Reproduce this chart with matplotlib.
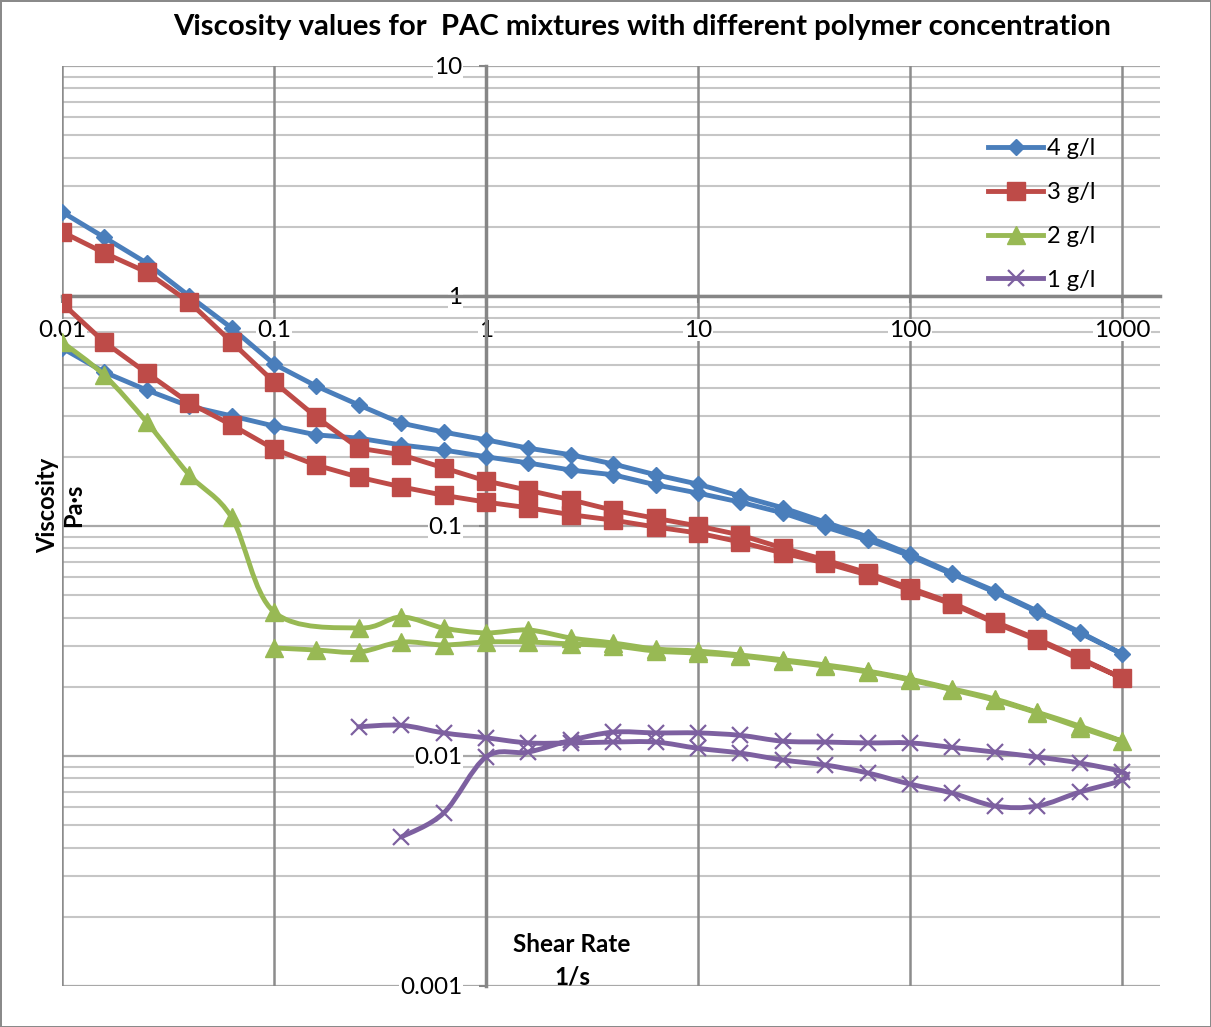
import numpy as np
import matplotlib
matplotlib.use('Agg')
import matplotlib.pyplot as plt
from matplotlib.path import Path
from matplotlib.patches import PathPatch
from matplotlib.lines import Line2D
from matplotlib.ticker import NullLocator

plt.rcParams['font.family'] = ['Lato', 'DejaVu Sans']

# shear rates (1/s), 5 points per decade
shear = [0.01, 0.0158, 0.0251, 0.0398, 0.0631, 0.1, 0.158, 0.251, 0.398, 0.631,
         1, 1.58, 2.51, 3.98, 6.31, 10, 15.8, 25.1, 39.8, 63.1,
         100, 158, 251, 398, 631, 1000]

# 4 g/l  (up ramp k0..k25, down ramp k0..k24)
visc_4_up = [2.32, 1.80, 1.39, 1.00, 0.726, 0.506, 0.406, 0.336, 0.280, 0.256,
             0.237, 0.218, 0.204, 0.186, 0.167, 0.152, 0.135, 0.120, 0.104, 0.0896,
             0.0755, 0.0625, 0.0522, 0.0427, 0.0346, 0.0278]
visc_4_down = [0.594, 0.467, 0.390, 0.332, 0.301, 0.272, 0.249, 0.241, 0.225, 0.214,
               0.200, 0.188, 0.175, 0.167, 0.151, 0.139, 0.127, 0.114, 0.0990, 0.0869,
               0.0741, 0.0618, 0.0516, 0.0423, 0.0343]

# 3 g/l
visc_3_up = [1.90, 1.54, 1.27, 0.942, 0.631, 0.423, 0.298, 0.218, 0.204, 0.179,
             0.157, 0.143, 0.130, 0.117, 0.108, 0.100, 0.0914, 0.0802, 0.0712, 0.0625,
             0.0538, 0.0463, 0.0383, 0.0323, 0.0267, 0.0218]
visc_3_down = [0.932, 0.631, 0.463, 0.343, 0.275, 0.216, 0.184, 0.163, 0.148, 0.136,
               0.127, 0.120, 0.112, 0.106, 0.0990, 0.0932, 0.0852, 0.0763, 0.0690, 0.0612,
               0.0527, 0.0458, 0.0379, 0.0319, 0.0264]

# 2 g/l  (up ramp has no point at 0.158)
shear_2_up = shear[:6] + shear[7:]
visc_2_up = [0.631, 0.453, 0.283, 0.167, 0.109, 0.0423,
             0.0360, 0.0402, 0.0360, 0.0343, 0.0353, 0.0326, 0.0310, 0.0292, 0.0286,
             0.0275, 0.0262, 0.0249, 0.0234, 0.0216, 0.0196, 0.0177, 0.0155, 0.0135, 0.0116]
shear_2_down = shear[5:25]
visc_2_down = [0.0295, 0.0289, 0.0283, 0.0313, 0.0304, 0.0313, 0.0313, 0.0307, 0.0301, 0.0286,
               0.0280, 0.0272, 0.0259, 0.0246, 0.0232, 0.0214, 0.0194, 0.0175, 0.0154, 0.0133]

# 1 g/l
shear_1_up = shear[7:]
visc_1_up = [0.0134, 0.0136, 0.0126, 0.0120, 0.0114, 0.0114, 0.0115, 0.0115, 0.0108, 0.0103,
             0.00961, 0.00914, 0.00844, 0.00755, 0.00690, 0.00606, 0.00606, 0.00697, 0.00786]
shear_1_down = shear[8:]
visc_1_down = [0.00444, 0.00565, 0.0099, 0.0104, 0.0117, 0.0127, 0.0126, 0.0126, 0.0123,
               0.0116, 0.0115, 0.0114, 0.0114, 0.0109, 0.0104, 0.0099, 0.00932, 0.00852]

labels = ['4 g/l', '3 g/l', '2 g/l', '1 g/l']
colors = ['#4A7EBB', '#BE4B48', '#98B954', '#7D60A0']

x_ticks = [0.01, 0.1, 1, 10, 100, 1000]
x_ticklabels = ['0.01', '0.1', '1', '10', '100', '1000']
y_ticks = [0.001, 0.01, 0.1, 1, 10]
y_ticklabels = ['0.001', '0.01', '0.1', '1', '10']


def smooth_path(xs, ys):
    # excel-like smoothed line: bezier through the points, in log space
    lx = np.log10(xs)
    ly = np.log10(ys)
    n = len(lx)
    verts = [(lx[0], ly[0])]
    codes = [Path.MOVETO]
    for i in range(n - 1):
        a = max(i - 1, 0)
        b = min(i + 2, n - 1)
        c1 = (lx[i] + (lx[i + 1] - lx[a]) / 6, ly[i] + (ly[i + 1] - ly[a]) / 6)
        c2 = (lx[i + 1] - (lx[b] - lx[i]) / 6, ly[i + 1] - (ly[b] - ly[i]) / 6)
        verts += [c1, c2, (lx[i + 1], ly[i + 1])]
        codes += [Path.CURVE4] * 3
    return Path(10 ** np.array(verts), codes)


fig = plt.figure(figsize=(12.11, 10.27), dpi=100)
fig.patch.set_edgecolor('#8a8a8a')
fig.patch.set_linewidth(2)
ax = fig.add_axes([62 / 1211, 41 / 1027, 1098 / 1211, 920 / 1027])
ax.set_xscale('log')
ax.set_yscale('log')
ax.set_xlim(0.01, 1510)
ax.set_ylim(0.001, 10)

# gridlines drawn by hand so the tick labels can sit on top of them
for dec in y_ticks:
    for m in range(2, 10):
        if dec * m < 10:
            ax.axhline(dec * m, color='#c6c6c6', lw=1.5, zorder=0.5)
    ax.axhline(dec, color='#a8a8a8', lw=1.6, zorder=0.6)
for xv in x_ticks:
    ax.axvline(xv, color='#8c8c8c', lw=1.8, zorder=0.7)

series = [
    (shear, visc_4_up, shear[:25], visc_4_down, 'D', 8, 1, False),
    (shear, visc_3_up, shear[:25], visc_3_down, 's', 12.5, 1, False),
    (shear_2_up, visc_2_up, shear_2_down, visc_2_down, '^', 13, 1, True),
    (shear_1_up, visc_1_up, shear_1_down, visc_1_down, 'x', 11, 1.6, True),
]

handles = []
for i, (xu, yu, xd, yd, mk, ms, mew, smooth) in enumerate(series):
    x = list(xu) + list(xd)[::-1]
    y = list(yu) + list(yd)[::-1]
    c = colors[i]
    if smooth:
        ax.add_patch(PathPatch(smooth_path(x, y), facecolor='none', edgecolor=c,
                               lw=3.5, joinstyle='round', capstyle='round', zorder=3 + i))
    else:
        ax.plot(x, y, color=c, lw=3.5, solid_joinstyle='round', zorder=3 + i)
    ax.plot(x, y, ls='none', marker=mk, ms=ms, mew=mew, color=c, zorder=3 + i)
    handles.append(Line2D([], [], color=c, lw=3.5, marker=mk, ms=ms, mew=mew))

# axes cross at x=1, y=1
for s in ['top', 'right']:
    ax.spines[s].set_visible(False)
ax.spines['left'].set_position(('data', 1))
ax.spines['bottom'].set_position(('data', 1))
for s in ['left', 'bottom']:
    ax.spines[s].set_color('#868686')
    ax.spines[s].set_linewidth(2.5)

ax.set_xticks(x_ticks)
ax.set_xticklabels(x_ticklabels)
ax.set_yticks(y_ticks)
ax.set_yticklabels(y_ticklabels)
ax.xaxis.set_minor_locator(NullLocator())
ax.yaxis.set_minor_locator(NullLocator())
ax.tick_params(which='major', direction='out', length=5, width=1.5, color='#868686',
               labelsize=17.5, pad=12)
for lab in ax.get_xticklabels() + ax.get_yticklabels():
    lab.set_bbox(dict(facecolor='white', edgecolor='none', pad=0.5))

fig.text(642 / 1211, 1 - 27 / 1027,
         'Viscosity values for  PAC mixtures with different polymer concentration',
         ha='center', va='center', fontsize=21.2, fontweight='bold')
fig.text(572 / 1211, 1 - 961 / 1027, 'Shear Rate\n1/s', ha='center', va='center',
         fontsize=17.5, fontweight='bold', linespacing=1.5)
fig.text(61 / 1211, 1 - 505 / 1027, 'Viscosity\nPa·s', ha='center', va='center',
         rotation=90, fontsize=17, fontweight='bold', linespacing=1.15)

fig.legend(handles, labels, loc='upper left', bbox_to_anchor=(988 / 1211, 1 - 138 / 1027),
           frameon=False, fontsize=17, handlelength=2.35, handletextpad=0.15,
           labelspacing=0.97, borderpad=0, borderaxespad=0)

fig.savefig('out.png', dpi=100)
